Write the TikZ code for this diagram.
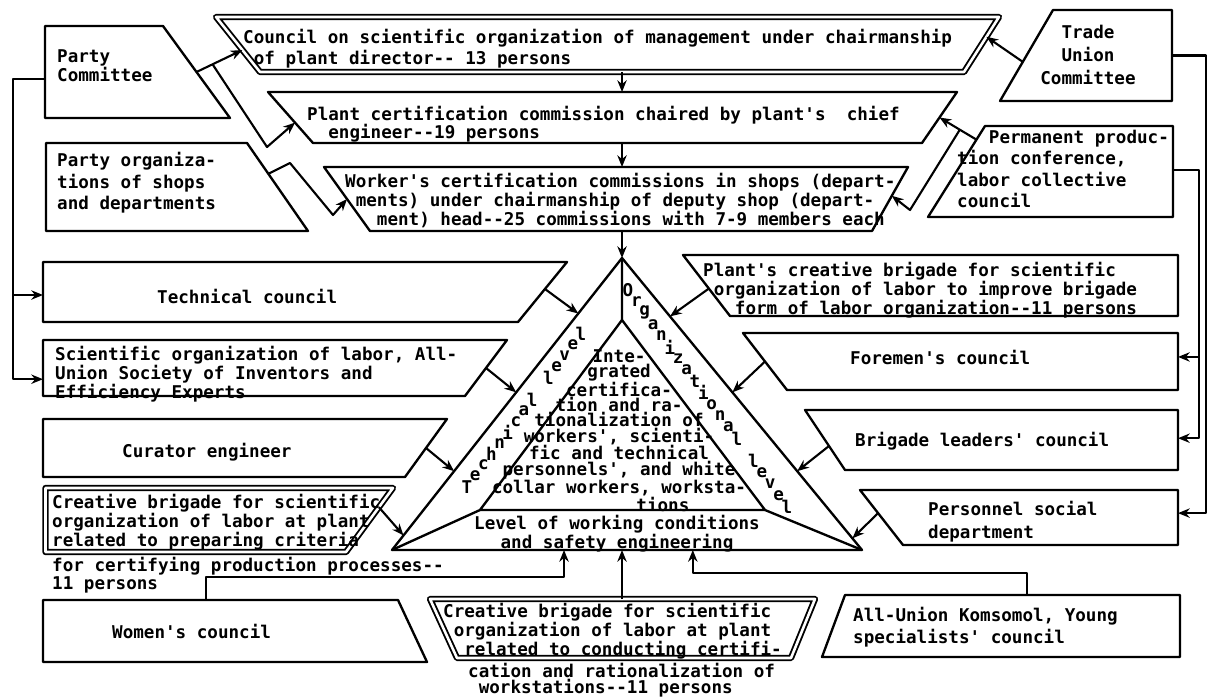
\documentclass[tikz,border=0pt]{standalone}
\usepackage{fontspec}
\setmonofont{DejaVu Sans Mono}
\usetikzlibrary{calc,arrows.meta}

\begin{document}
\begin{tikzpicture}[x=0.03cm,y=-0.03cm,
  box/.style={line width=2pt, line join=round},
  dbox/.style={line width=1.6pt, double, double distance=2.2pt, line join=round},
  link/.style={line width=1.8pt, line join=round},
  arr/.style={link, -{Stealth[length=10pt,width=8pt]}},
  txt/.style={font=\ttfamily\bfseries\fontsize{15}{#1}\selectfont, inner sep=0pt, align=left},
  txt/.default=14.5]
\useasboundingbox (0,0) rectangle (1209,698);

% TOP CHAIN
% council on scientific organization
\coordinate (t1a) at (216,17);
\coordinate (t1b) at (999,17);
\coordinate (t1c) at (964,72);
\coordinate (t1d) at (260,72);
\draw[dbox] (t1a) -- (t1b) -- (t1c) -- (t1d) -- cycle;
\node[txt=17.9, anchor=north west] (t1) at (243,29) {Council on scientific organization of management under chairmanship\\~of plant director-- 13 persons};
% plant certification commission
\coordinate (t2a) at (268,92);
\coordinate (t2b) at (957,92);
\coordinate (t2c) at (922,143);
\coordinate (t2d) at (313,143);
\draw[box] (t2a) -- (t2b) -- (t2c) -- (t2d) -- cycle;
\node[txt=15.4, anchor=north west] (t2) at (307,106) {Plant certification commission chaired by plant's~~chief\\~~engineer--19 persons};
% worker's certification commissions
\coordinate (t3a) at (324,167);
\coordinate (t3b) at (908,167);
\coordinate (t3c) at (872,231);
\coordinate (t3d) at (370,231);
\draw[box] (t3a) -- (t3b) -- (t3c) -- (t3d) -- cycle;
\node[txt=14.9, anchor=north west] (t3) at (345,173) {Worker's certification commissions in shops (depart-\\~ments) under chairmanship of deputy shop (depart-\\~~~ment) head--25 commissions with 7-9 members each};

% LEFT TOP
\coordinate (l1a) at (45,26);
\coordinate (l1b) at (163,26);
\coordinate (l1c) at (230,118);
\coordinate (l1d) at (45,118);
\draw[box] (l1a) -- (l1b) -- (l1c) -- (l1d) -- cycle;
\node[txt=17, anchor=north west] (l1) at (57,49) {Party\\Committee};
\coordinate (l2a) at (46,143);
\coordinate (l2b) at (247,143);
\coordinate (l2c) at (308,231);
\coordinate (l2d) at (46,231);
\draw[box] (l2a) -- (l2b) -- (l2c) -- (l2d) -- cycle;
\node[txt=18.4, anchor=north west] (l2) at (57,152) {Party organiza-\\tions of shops\\and departments};

% RIGHT TOP
\coordinate (r1a) at (1053,10);
\coordinate (r1b) at (1172,10);
\coordinate (r1c) at (1172,101);
\coordinate (r1d) at (1000,101);
\draw[box] (r1a) -- (r1b) -- (r1c) -- (r1d) -- cycle;
\node[txt=19.6, align=center, anchor=north] (r1) at (1088,25) {Trade\\Union\\Committee};
\coordinate (r2a) at (985,126);
\coordinate (r2b) at (1173,126);
\coordinate (r2c) at (1173,217);
\coordinate (r2d) at (928,217);
\draw[box] (r2a) -- (r2b) -- (r2c) -- (r2d) -- cycle;
\node[txt=18.2, anchor=north west] (r2) at (957,130) {~~~Permanent produc-\\tion conference,\\labor collective\\council};

% LEFT MIDDLE
\coordinate (m1a) at (43,262);
\coordinate (m1b) at (567,262);
\coordinate (m1c) at (518,322);
\coordinate (m1d) at (43,322);
\draw[box] (m1a) -- (m1b) -- (m1c) -- (m1d) -- cycle;
\node[txt, anchor=north west] (m1) at (157,289) {Technical council};
\coordinate (m2a) at (43,340);
\coordinate (m2b) at (507,340);
\coordinate (m2c) at (465,396);
\coordinate (m2d) at (43,396);
\draw[box] (m2a) -- (m2b) -- (m2c) -- (m2d) -- cycle;
\node[txt=12.8, anchor=north west] (m2) at (55,346) {Scientific organization of labor, All-\\Union Society of Inventors and\\Efficiency Experts};
\coordinate (m3a) at (43,419);
\coordinate (m3b) at (447,419);
\coordinate (m3c) at (405,477);
\coordinate (m3d) at (43,477);
\draw[box] (m3a) -- (m3b) -- (m3c) -- (m3d) -- cycle;
\node[txt, anchor=north west] (m3) at (122,443) {Curator engineer};
\coordinate (m4a) at (45.5,488);
\coordinate (m4b) at (393,488);
\coordinate (m4c) at (346,552);
\coordinate (m4d) at (45.5,552);
\draw[dbox] (m4a) -- (m4b) -- (m4c) -- (m4d) -- cycle;
\node[txt=13, anchor=north west] (m4) at (52,494) {Creative brigade for scientific\\organization of labor at plant\\related to preparing criteria};
\node[txt=13.7, anchor=north west] (m4x) at (52,557) {for certifying production processes--\\11 persons};

% RIGHT MIDDLE
\coordinate (n1a) at (683,255);
\coordinate (n1b) at (1178,255);
\coordinate (n1c) at (1178,316);
\coordinate (n1d) at (730,316);
\draw[box] (n1a) -- (n1b) -- (n1c) -- (n1d) -- cycle;
\node[txt=14.5, anchor=north west] (n1) at (703,262) {Plant's creative brigade for scientific\\~organization of labor to improve brigade\\~~~form of labor organization--11 persons};
\coordinate (n2a) at (743,333);
\coordinate (n2b) at (1178,333);
\coordinate (n2c) at (1178,390);
\coordinate (n2d) at (787,390);
\draw[box] (n2a) -- (n2b) -- (n2c) -- (n2d) -- cycle;
\node[txt, anchor=north west] (n2) at (850,350) {Foremen's council};
\coordinate (n3a) at (805,410);
\coordinate (n3b) at (1178,410);
\coordinate (n3c) at (1178,470);
\coordinate (n3d) at (845,470);
\draw[box] (n3a) -- (n3b) -- (n3c) -- (n3d) -- cycle;
\node[txt, anchor=north west] (n3) at (855,432) {Brigade leaders' council};
\coordinate (n4a) at (860,490);
\coordinate (n4b) at (1178,490);
\coordinate (n4c) at (1178,545);
\coordinate (n4d) at (903,545);
\draw[box] (n4a) -- (n4b) -- (n4c) -- (n4d) -- cycle;
\node[txt=19.6, anchor=north west] (n4) at (928,501) {Personnel social\\department};

% BOTTOM
\coordinate (b1a) at (43,600);
\coordinate (b1b) at (398,600);
\coordinate (b1c) at (427,662);
\coordinate (b1d) at (43,662);
\draw[box] (b1a) -- (b1b) -- (b1c) -- (b1d) -- cycle;
\node[txt, anchor=north west] (b1) at (112,624) {Women's council};
\coordinate (b2a) at (430,599);
\coordinate (b2b) at (815,599);
\coordinate (b2c) at (791,658);
\coordinate (b2d) at (457,658);
\draw[dbox] (b2a) -- (b2b) -- (b2c) -- (b2d) -- cycle;
\node[txt=12.5, anchor=north west] (b2) at (443,603) {Creative brigade for scientific\\~organization of labor at plant\\~~related to conducting certifi-};
\node[txt=13.7, anchor=north west] (b2x) at (468,663) {cation and rationalization of\\~workstations--11 persons};
\coordinate (b3a) at (845,595);
\coordinate (b3b) at (1180,595);
\coordinate (b3c) at (1180,657);
\coordinate (b3d) at (822,657);
\draw[box] (b3a) -- (b3b) -- (b3c) -- (b3d) -- cycle;
\node[txt=18.8, anchor=north west] (b3) at (853,607) {All-Union Komsomol, Young\\specialists' council};

% TRIANGLE
\coordinate (ta) at (622,258);
\coordinate (tb) at (392,550);
\coordinate (tc) at (862,550);
\coordinate (ia) at (622,320);
\coordinate (ib) at (480,510);
\coordinate (ic) at (765,510);
\draw[box] (ta) -- (tb) -- (tc) -- cycle;
\draw[box] (ia) -- (ib) -- (ic) -- cycle;
\draw[box] (ta) -- (ia) (ib) -- (tb) (ic) -- (tc);
\node[txt=13, align=center, anchor=north] (integ) at (619,349) {Inte-\\grated\\certifica-\\tion and ra-\\tionalization of\\workers', scienti-\\fic and technical\\personnels', and white\\collar workers, worksta-\\\hspace*{5em}tions};
\node[txt=14.5, align=center, anchor=north] (lvl) at (617,515) {Level of working conditions\\and safety engineering};
% band letters
\coordinate (tlA) at (467,487);
\coordinate (tlB) at (581,334);
\foreach \letter [count=\i from 0] in {T,e,c,h,n,i,c,a,l,,l,e,v,e,l}
  \node[txt] (tl\i) at ($(tlA)!\i/14!(tlB)$) {\letter};
\coordinate (olA) at (628,290);
\coordinate (olB) at (787,507);
\foreach \letter [count=\i from 0] in {O,r,g,a,n,i,z,a,t,i,o,n,a,l,,l,e,v,e,l}
  \node[txt] (ol\i) at ($(olA)!\i/19!(olB)$) {\letter};

% top chain arrows
\draw[arr] ($(t1d)!(ta)!(t1c)$) -- ($(t2a)!(ta)!(t2b)$);
\draw[arr] ($(t2d)!(ta)!(t2c)$) -- ($(t3a)!(ta)!(t3b)$);
\draw[arr] ($(t3d)!(ta)!(t3c)$) -- (ta);

% party links
\coordinate (pcs) at ($(l1b)!0.5!(l1c)$);
\coordinate (pce) at ($(t1a)!0.6!(t1d)$);
\coordinate (pcb) at ($(pcs)!0.35!(pce)$);
\coordinate (pck) at (267,147);
\draw[arr] (pcs) -- (pce);
\draw[arr] (pcb) -- (pck) -- ($(t2a)!0.6!(t2d)$);
\coordinate (pos) at ($(l2b)!0.35!(l2c)$);
\coordinate (pok1) at (290,163);
\coordinate (pok2) at (333,215);
\draw[arr] (pos) -- (pok1) -- (pok2) -- ($(t3a)!0.5!(t3d)$);

% trade union links
\draw[arr] ($(r1a)!0.57!(r1d)$) -- ($(t1b)!0.36!(t1c)$);
\coordinate (pps) at ($(r2a)!0.15!(r2d)$);
\coordinate (ppe) at ($(t2b)!0.5!(t2c)$);
\coordinate (ppb) at ($(pps)!0.45!(ppe)$);
\coordinate (ppk) at (910,210);
\draw[arr] (pps) -- (ppe);
\draw[arr] (ppb) -- (ppk) -- ($(t3b)!0.45!(t3c)$);

% left bus
\coordinate (lbus) at (13,0);
\coordinate (pcw) at ($(l1a)!0.58!(l1d)$);
\coordinate (m1w) at ($(m1a)!0.55!(m1d)$);
\coordinate (m2w) at ($(m2a)!0.7!(m2d)$);
\draw[arr] (pcw) -- (pcw -| lbus) -- (m2w -| lbus) -- (m2w);
\draw[arr] (m1w -| lbus) -- (m1w);

% right buses
\coordinate (rbus1) at (1206,0);
\coordinate (rbus2) at (1199,0);
\coordinate (r1e) at ($(r1b)!0.5!(r1c)$);
\coordinate (r2e) at ($(r2b)!0.48!(r2c)$);
\coordinate (n2e) at ($(n2b)!0.42!(n2c)$);
\coordinate (n3e) at ($(n3b)!0.47!(n3c)$);
\coordinate (n4e) at ($(n4b)!0.42!(n4c)$);
\draw[arr] (r1e) -- (r1e -| rbus1) -- (n4e -| rbus1) -- (n4e);
\draw[arr] (r2e) -- (r2e -| rbus2) -- (n3e -| rbus2) -- (n3e);
\draw[arr] (n2e -| rbus2) -- (n2e);

% into the triangle
\draw[arr] ($(m1b)!0.45!(m1c)$) -- ($(ta)!0.19!(tb)$);
\draw[arr] ($(m2b)!0.5!(m2c)$) -- ($(ta)!0.46!(tb)$);
\draw[arr] ($(m3b)!0.5!(m3c)$) -- ($(ta)!0.73!(tb)$);
\draw[arr] ($(m4b)!0.3!(m4c)$) -- ($(ta)!0.95!(tb)$);
\draw[arr] ($(n1a)!0.55!(n1d)$) -- ($(ta)!0.2!(tc)$);
\draw[arr] ($(n2a)!0.5!(n2d)$) -- ($(ta)!0.46!(tc)$);
\draw[arr] ($(n3a)!0.6!(n3d)$) -- ($(ta)!0.73!(tc)$);
\draw[arr] ($(n4a)!0.42!(n4d)$) -- ($(ta)!0.96!(tc)$);
\coordinate (b1n) at ($(b1a)!0.46!(b1b)$);
\coordinate (wt) at ($(tb)!0.366!(tc)$);
\draw[arr] (b1n) -- ++(0,-23) -| (wt);
\draw[arr] ($(b2a)!(ta)!(b2b)$) -- ($(tb)!(ta)!(tc)$);
\coordinate (b3n) at ($(b3a)!0.543!(b3b)$);
\coordinate (yt) at ($(tb)!0.64!(tc)$);
\draw[arr] (b3n) -- ++(0,-22) -| (yt);

\end{tikzpicture}
\end{document}
